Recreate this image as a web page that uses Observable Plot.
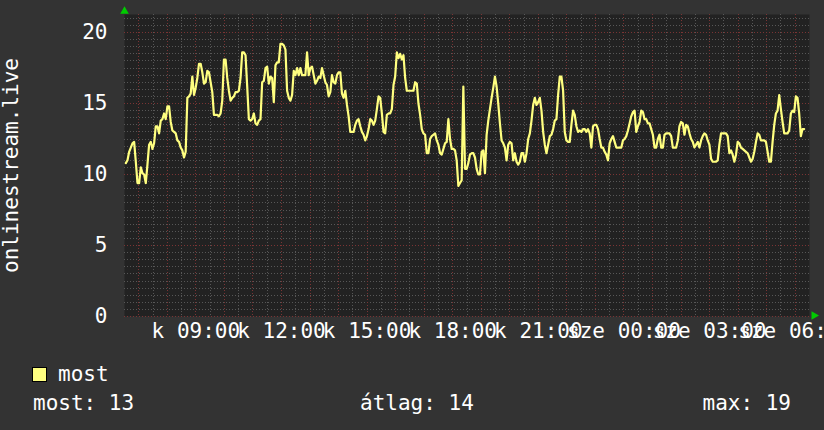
<!DOCTYPE html>
<html>
<head>
<meta charset="utf-8">
<script src="https://cdn.jsdelivr.net/npm/d3@7"></script>
<script src="https://cdn.jsdelivr.net/npm/@observablehq/plot@0.6"></script>
<style>
html, body { margin: 0; padding: 0; background: #333333; }
#wrap { position: relative; width: 824px; height: 430px; background: #333333; overflow: hidden;
        font-family: "DejaVu Sans Mono", monospace; color: #ffffff; }
#chart { position: absolute; left: 0; top: 0; width: 824px; height: 350px; }
#legend { position: absolute; left: 0; top: 350px; width: 824px; height: 80px; font-size: 21px; line-height: 21px; }
#legend .t { position: absolute; white-space: pre; }
#legend .sw { position: absolute; width: 13px; height: 13px; border: 1px solid #000; }
</style>
</head>
<body>
<div id="wrap">
  <div id="chart"></div>
  <div id="legend"></div>
</div>
<script>
// ---- data ----
const yTitle = "onlinestream.live";
const seriesName = "most";
const seriesColor = "#ffff80";
const statLabels = ["most", "átlag", "max"];
const statValues = [13, 14, 19];
const dayNames = { 2: "k", 3: "sze" };     // kedd, szerda
const yTicks = [0, 5, 10, 15, 20];

// one sample every ~3.5 minutes, starting 06:32:48 (Tue)
const most = [
  10.8,11.0,11.6,11.9,12.2,12.3,10.9,9.4,9.4,10.5,10.1,10.0,9.4,10.7,12.1,12.3,11.8,12.2,13.4,13.4,
  12.9,13.8,13.9,14.3,13.9,14.8,14.8,13.7,13.1,13.0,12.9,12.4,12.3,11.9,11.7,11.2,11.6,15.4,15.5,15.7,
  16.9,15.6,16.1,16.8,17.8,17.8,17.2,16.4,16.5,17.3,17.2,16.5,15.8,14.2,14.2,14.2,14.1,14.3,15.2,18.1,
  18.1,16.8,15.9,15.2,15.4,15.5,15.8,15.8,15.9,16.8,18.6,18.6,18.4,16.2,13.9,13.8,13.9,14.3,13.6,13.5,
  13.8,
  13.9,16.5,16.6,17.5,17.6,16.4,16.9,16.8,15.1,17.7,17.9,17.9,19.2,19.2,19.1,18.8,15.9,15.4,15.2,15.6,
  17.3,17.0,17.5,17.0,17.5,17.0,17.0,17.0,18.6,17.0,17.5,17.6,17.0,16.4,16.6,16.9,16.8,17.5,17.0,16.5,
  16.3,15.5,15.8,17.0,16.5,16.4,17.0,17.2,17.2,15.7,15.4,15.9,14.9,14.1,13.0,13.0,13.0,13.5,13.8,13.9,
  13.4,13.0,12.8,12.4,12.7,13.2,13.9,13.8,13.5,13.8,14.6,15.5,15.4,14.3,13.0,12.9,14.2,14.3,14.3,14.6,
  16.3,16.9,18.6,
  18.2,18.5,18.1,18.4,16.8,15.9,15.9,15.9,15.9,15.9,16.5,16.4,15.0,14.2,13.2,12.9,12.8,11.5,11.5,12.5,
  12.7,12.8,12.9,12.4,12.1,11.5,11.4,11.8,12.2,12.3,13.9,12.5,11.8,11.8,11.7,11.0,9.2,9.4,9.6,16.2,
  10.4,10.4,10.8,11.4,11.5,11.5,11.2,10.4,10.0,10.0,11.6,11.7,10.1,12.8,13.8,14.6,15.4,16.1,16.9,16.2,
  15.0,13.6,12.4,12.2,11.9,11.0,12.1,12.3,12.2,11.0,11.5,10.9,10.7,10.9,11.5,11.5,10.9,11.5,12.5,12.9,
  13.8,14.9,15.4,
  14.9,15.1,15.4,14.5,13.0,12.1,11.5,12.1,12.7,12.8,13.2,13.8,13.9,15.6,16.9,16.9,15.9,13.0,12.4,12.3,
  12.3,13.5,14.5,14.2,13.4,13.0,13.1,13.0,13.2,13.2,13.0,13.2,12.9,11.9,13.4,13.5,13.5,13.2,12.5,11.9,
  11.9,11.6,11.4,11.0,12.2,12.5,12.7,12.3,11.9,11.9,11.9,11.9,12.4,12.5,12.7,13.1,13.6,14.1,14.4,14.5,
  13.0,13.4,13.7,14.5,14.4,13.9,13.9,13.6,13.6,13.2,12.8,11.9,11.9,12.5,12.8,11.9,11.9,12.8,12.9,12.9,
  12.9,12.7,11.9,
  11.9,11.9,12.4,13.4,13.7,13.6,12.8,13.5,13.4,12.9,12.5,12.3,11.9,12.1,12.3,11.9,12.4,12.7,12.9,12.8,
  12.4,12.1,11.1,10.9,10.9,10.9,11.0,12.1,12.9,12.9,12.9,12.9,12.7,11.5,11.7,11.4,10.9,11.4,12.3,12.2,
  11.9,11.8,11.7,11.6,11.5,11.2,10.9,11.1,11.6,12.3,12.9,12.8,12.4,12.4,12.4,12.3,11.6,10.9,10.9,12.3,
  13.5,14.3,14.5,15.6,14.6,13.7,12.9,12.9,12.9,13.1,14.3,14.5,14.4,15.5,15.4,14.3,12.7,13.2,13.2
];

// ---- time axis ----
const start = new Date(Date.UTC(2024, 0, 2, 6, 30));   // Tuesday 06:30
const end   = new Date(Date.UTC(2024, 0, 3, 6, 30));   // Wednesday 06:30
const t0 = Date.UTC(2024, 0, 2, 6, 32, 48);
const stepMs = 209706;
const data = most.map((v, i) => ({ t: new Date(t0 + i * stepMs), v }));

const yMax = 21.27;
const minorY = d3.range(0.5, yMax, 0.5).filter(v => v % 5 !== 0);
const majorY = yTicks;
const minorX = d3.utcMinute.every(30).range(start, end).filter(d => d.getUTCMinutes() === 30 && +d !== +start);
const majorX = d3.utcHour.range(start, end);
const labelX = d3.utcHour.every(3).range(start, end);
const fmtHM = d3.utcFormat("%H:%M");
const fmtX = d => dayNames[d.getUTCDay()] + " " + fmtHM(d);

const arrowTop = [{ t: start, v: 21.5 }];
const arrowRight = [{ t: new Date(+end + 9.5 * 60000), v: 0.07 }];

const minorColor = "#575757";
const majorColor = "#7a3434";
const dash = "1,2";

const chart = Plot.plot({
  width: 824,
  height: 350,
  marginLeft: 124,
  marginRight: 15,
  marginTop: 14,
  marginBottom: 34,
  style: { background: "transparent", color: "#ffffff", fontFamily: "DejaVu Sans Mono", fontSize: "21px", overflow: "hidden" },
  x: { type: "utc", domain: [start, end] },
  y: { domain: [0, yMax] },
  marks: [
    Plot.frame({ fill: "#222222", stroke: null }),
    Plot.ruleY(minorY, { stroke: minorColor, strokeDasharray: dash, shapeRendering: "crispEdges" }),
    Plot.ruleX(minorX, { stroke: minorColor, strokeDasharray: dash, shapeRendering: "crispEdges" }),
    Plot.ruleY(majorY, { stroke: majorColor, strokeDasharray: dash, shapeRendering: "crispEdges" }),
    Plot.ruleX(majorX, { stroke: majorColor, strokeDasharray: dash, shapeRendering: "crispEdges" }),
    Plot.axisY({ ticks: yTicks, tickSize: 0, tickPadding: 17, fontSize: 21,
                 label: yTitle, labelAnchor: "center", labelArrow: "none", labelOffset: 121 }),
    Plot.axisX({ ticks: labelX, tickFormat: fmtX, tickSize: 0, tickPadding: 7, fontSize: 21, label: null }),
    Plot.lineY(data, { x: "t", y: "v", stroke: seriesColor, strokeWidth: 2.2 }),
    Plot.dot(arrowTop, { x: "t", y: "v", symbol: "triangle", fill: "#00cc00", r: 3.2 }),
    Plot.dot(arrowRight, { x: "t", y: "v", symbol: "triangle", fill: "#00cc00", r: 3.2, rotate: 90 })
  ]
});
document.getElementById("chart").appendChild(chart);

// ---- legend ----
const lg = document.getElementById("legend");
function addText(txt, left, top, align) {
  const el = document.createElement("div");
  el.className = "t";
  el.textContent = txt;
  el.style.top = top + "px";
  if (align === "right") el.style.right = left + "px"; else el.style.left = left + "px";
  lg.appendChild(el);
  return el;
}
const sw = document.createElement("div");
sw.className = "sw";
sw.style.left = "32px"; sw.style.top = "17px"; sw.style.background = seriesColor;
lg.appendChild(sw);
addText(seriesName, 58, 14);
addText(statLabels[0] + ": " + statValues[0], 33, 43);
addText(statLabels[1] + ": " + statValues[1], 360, 43);
addText(statLabels[2] + ": " + statValues[2], 33, 43, "right");
</script>
</body>
</html>
